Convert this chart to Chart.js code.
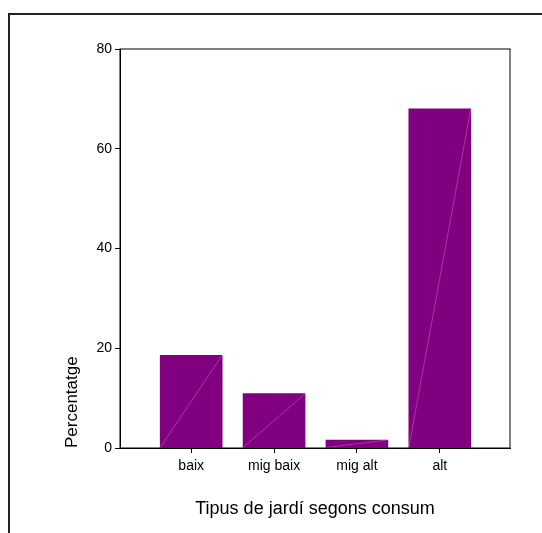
<!DOCTYPE html>
<html lang="ca">
<head>
  <meta charset="UTF-8">
  <title>Tipus de jardí segons consum</title>
  <script src="https://cdn.jsdelivr.net/npm/chart.js"></script>
  <style>
    body {
      margin: 0;
      background: #fff;
    }
    .wrap {
      position: relative;
      width: 542px;
      height: 533px;
      overflow: hidden;
    }
    .frame {
      position: absolute;
      left: 8px;
      top: 13px;
      right: -10px;
      bottom: -10px;
      border-left: 2px solid #222;
      border-top: 2px solid #222;
    }
    canvas {
      position: absolute;
      left: 0;
      top: 0;
    }
  </style>
</head>
<body>

<div class="wrap">
  <div class="frame"></div>
  <canvas id="chartJardi" width="542" height="533"></canvas>
</div>

<script>
  // dades
  const categories = ['baix', 'mig baix', 'mig alt', 'alt'];
  const percentatges = [18.6, 10.9, 1.6, 68.0];
  const yTicks = [0, 20, 40, 60, 80];

  Chart.defaults.font.family = 'Arial, "Liberation Sans", sans-serif';
  Chart.defaults.color = '#000';

  // caixa del gràfic (dalt i dreta)
  const boxPlugin = {
    id: 'box',
    afterDraw(chart) {
      const { ctx, chartArea: a } = chart;
      ctx.save();
      ctx.strokeStyle = '#000';
      ctx.lineWidth = 1;
      ctx.strokeRect(a.left, a.top, a.right - a.left, a.bottom - a.top);
      ctx.restore();
    }
  };

  // línia fina en diagonal dins de cada barra
  const diagPlugin = {
    id: 'diag',
    afterDatasetsDraw(chart) {
      const ctx = chart.ctx;
      ctx.save();
      ctx.strokeStyle = 'rgba(230, 160, 230, 0.7)';
      ctx.lineWidth = 0.5;
      chart.getDatasetMeta(0).data.forEach(bar => {
        const p = bar.getProps(['x', 'y', 'base', 'width'], true);
        ctx.beginPath();
        ctx.moveTo(p.x - p.width / 2, p.base);
        ctx.lineTo(p.x + p.width / 2, p.y);
        ctx.stroke();
      });
      ctx.restore();
    }
  };

  new Chart(document.getElementById('chartJardi'), {
    type: 'bar',
    data: {
      datasets: [{
        data: percentatges.map((v, i) => ({ x: i + 1, y: v })),
        backgroundColor: '#800080',
        borderWidth: 0,
        barThickness: 62
      }]
    },
    options: {
      responsive: false,
      animation: false,
      layout: { padding: { top: 49, right: 32, left: 0, bottom: 0 } },
      plugins: {
        legend: { display: false },
        tooltip: { enabled: false }
      },
      scales: {
        x: {
          type: 'linear',
          min: 0.141,
          max: 4.847,
          offset: false,
          afterBuildTicks: s => { s.ticks = categories.map((c, i) => ({ value: i + 1 })); },
          afterFit: s => { s.height = 85; },
          ticks: {
            font: { size: 14 },
            padding: 5,
            callback: v => categories[Math.round(v) - 1] || ''
          },
          grid: { offset: false, drawOnChartArea: false, tickLength: 5, color: '#000' },
          border: { color: '#000' },
          title: {
            display: true,
            text: 'Tipus de jardí segons consum',
            font: { size: 18 },
            padding: { top: 0, bottom: 13 }
          }
        },
        y: {
          min: 0,
          max: 80,
          afterBuildTicks: s => { s.ticks = yTicks.map(v => ({ value: v })); },
          afterFit: s => { s.width = 120; },
          ticks: { font: { size: 14 }, padding: 3 },
          grid: { drawOnChartArea: false, tickLength: 5, color: '#000' },
          border: { color: '#000' },
          title: {
            display: true,
            text: 'Percentatge',
            align: 'start',
            font: { size: 17 },
            padding: { top: 62, bottom: 0 }
          }
        }
      }
    },
    plugins: [boxPlugin, diagPlugin]
  });
</script>

</body>
</html>
